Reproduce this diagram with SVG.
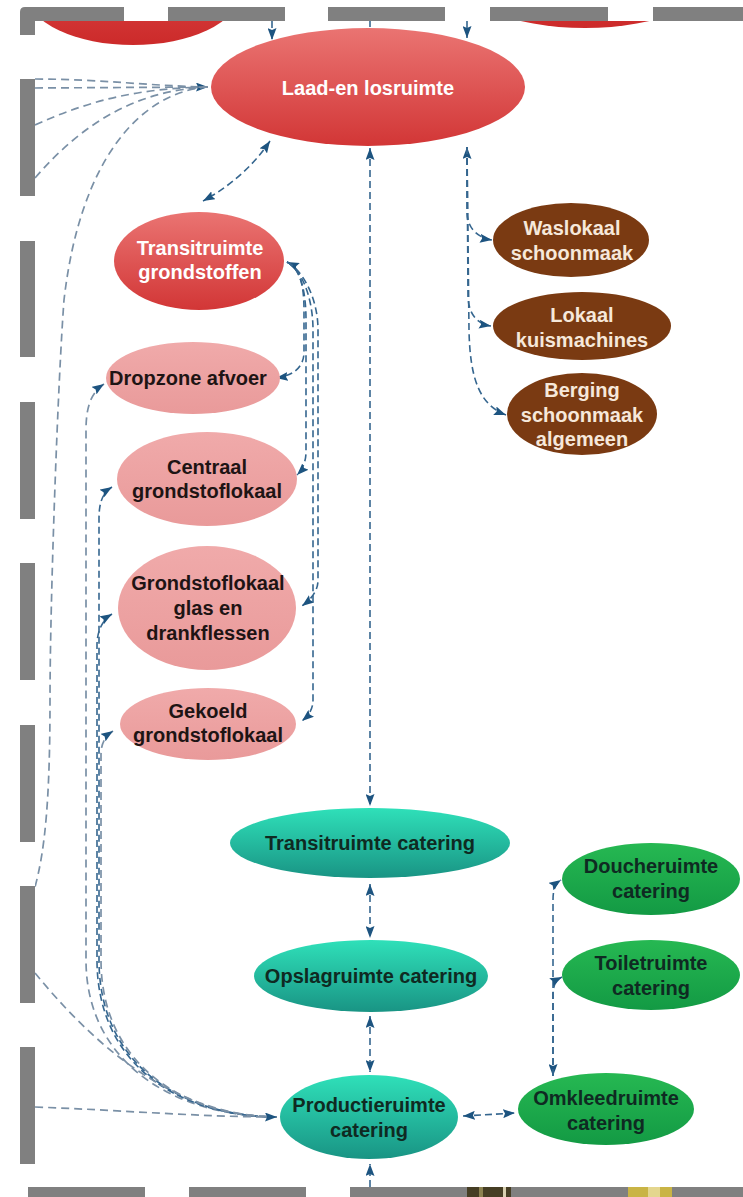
<svg xmlns="http://www.w3.org/2000/svg" width="743" height="1197" viewBox="0 0 743 1197">
<style>
.t{font-family:"Liberation Sans",Arial,sans-serif;font-weight:bold;font-size:20px;text-anchor:middle}
.w{fill:#ffffff}
.c{fill:#f6e8da}
.d{fill:#1e1414}
.g{fill:#0f2a22}
.bar{fill:#808080}
.ln{fill:none;stroke:#35668f;stroke-width:1.6;stroke-dasharray:7 4}
.lt{fill:none;stroke:#7a90a6;stroke-width:1.7;stroke-dasharray:8 5}
</style>
<defs>
<linearGradient id="gRed" x1="0" y1="0" x2="0" y2="1"><stop offset="0" stop-color="#ea7472"/><stop offset="1" stop-color="#d23636"/></linearGradient>
<linearGradient id="gRed2" x1="0" y1="0" x2="0" y2="1"><stop offset="0" stop-color="#e0504e"/><stop offset="1" stop-color="#cc2a2a"/></linearGradient>
<linearGradient id="gPink" x1="0" y1="0" x2="0" y2="1"><stop offset="0" stop-color="#f0aaaa"/><stop offset="1" stop-color="#e99a9a"/></linearGradient>
<linearGradient id="gTeal" x1="0" y1="0" x2="0" y2="1"><stop offset="0" stop-color="#2fe0b9"/><stop offset="1" stop-color="#199484"/></linearGradient>
<linearGradient id="gGreen" x1="0" y1="0" x2="0" y2="1"><stop offset="0" stop-color="#26b852"/><stop offset="1" stop-color="#139a44"/></linearGradient>
<marker id="ah" viewBox="0 0 12 9" refX="12" refY="4.5" markerWidth="12" markerHeight="9" markerUnits="userSpaceOnUse" orient="auto-start-reverse"><path d="M0,0 L12,4.5 L0,9 L2,4.5 z" fill="#1d5480"/></marker>
<clipPath id="clip"><rect x="35" y="21" width="708" height="1166"/></clipPath>
</defs>
<rect x="0" y="0" width="743" height="1197" fill="#ffffff"/>

<g clip-path="url(#clip)">
<g id="node-top-left"><ellipse cx="133" cy="-5" rx="105" ry="50" fill="url(#gRed2)"/></g>
<g id="node-top-right"><ellipse cx="585" cy="-30" rx="135" ry="58" fill="url(#gRed2)"/></g>

<g id="connectors">
<path class="lt" d="M35,79 C100,79 150,86 208,87"/>
<path class="lt" d="M35,88 L208,87" marker-end="url(#ah)"/>
<path class="lt" d="M35,125 C90,100 140,88 208,87"/>
<path class="lt" d="M35,178 C85,120 140,90 208,87"/>
<path class="lt" d="M208,87 C140,92 80,160 64,300 C58,380 50,600 50,700 C50,800 45,850 35,887"/>
<path class="ln" d="M270,141 Q245,178 203,201" marker-start="url(#ah)" marker-end="url(#ah)"/>
<path class="ln" d="M370,148 L370,806" marker-start="url(#ah)" marker-end="url(#ah)"/>
<path class="ln" d="M272,21 L272,40" marker-end="url(#ah)"/>
<path class="ln" d="M467,21 L467,38" marker-end="url(#ah)"/>
<path class="ln" d="M370,21 L370,27"/>
<path class="ln" d="M467,147 L467,212 C467,228 478,238 492,240" marker-start="url(#ah)" marker-end="url(#ah)"/>
<path class="ln" d="M467,147 L468,295 C468,315 478,324 491,326" marker-end="url(#ah)"/>
<path class="ln" d="M467,147 L469,330 C470,380 480,405 506,415" marker-end="url(#ah)"/>
<path class="ln" d="M287,262 C300,268 304,285 304,310 L304,352 C304,368 292,376 276,378" marker-start="url(#ah)" marker-end="url(#ah)"/>
<path class="ln" d="M287,262 C300,268 306,290 306,320 L306,452 C306,462 302,470 297,475" marker-end="url(#ah)"/>
<path class="ln" d="M287,262 C300,268 318,295 318,330 L318,580 C318,592 310,600 302,606" marker-end="url(#ah)"/>
<path class="ln" d="M287,262 C300,268 313,295 313,330 L313,700 C313,710 308,716 302,721" marker-end="url(#ah)"/>
<path class="lt" d="M104,384 C92,392 86,405 86,430 L86,960 C86,1060 170,1116 277,1117" marker-start="url(#ah)"/>
<path class="ln" d="M112,487 C101,494 99,505 99,520 L99,960 C99,1060 175,1116 277,1117" marker-start="url(#ah)"/>
<path class="ln" d="M112,614 C102,620 97,632 97,645 L97,960 C97,1060 172,1116 277,1117" marker-start="url(#ah)"/>
<path class="lt" d="M113,731 C104,737 101,745 101,755 L101,960 C101,1060 178,1116 277,1117" marker-start="url(#ah)"/>
<path class="lt" d="M35,973 C90,1040 170,1116 277,1117"/>
<path class="lt" d="M35,1107 C120,1110 200,1117 277,1117" marker-end="url(#ah)"/>
<path class="ln" d="M370,884 L370,938" marker-start="url(#ah)" marker-end="url(#ah)"/>
<path class="ln" d="M370,1016 L370,1072" marker-start="url(#ah)" marker-end="url(#ah)"/>
<path class="ln" d="M370,1187 L370,1164" marker-end="url(#ah)"/>
<path class="ln" d="M463,1116 L515,1113" marker-start="url(#ah)" marker-end="url(#ah)"/>
<path class="ln" d="M553,1076 L553,900 C553,890 555,884 561,880" marker-start="url(#ah)" marker-end="url(#ah)"/>
<path class="ln" d="M553,1076 L553,995 C553,985 556,980 562,977" marker-end="url(#ah)"/>
</g>

<g id="laad"><ellipse cx="368" cy="87" rx="157" ry="59" fill="url(#gRed)"/><text class="t w" x="368" y="95">Laad-en losruimte</text></g>
<g id="transit-grondstoffen"><ellipse cx="199" cy="261" rx="85" ry="49" fill="url(#gRed)"/><text class="t w" x="200" y="255">Transitruimte</text><text class="t w" x="200" y="279">grondstoffen</text></g>
<g id="dropzone"><ellipse cx="193" cy="378" rx="87" ry="36" fill="url(#gPink)"/><text class="t d" x="188" y="385">Dropzone afvoer</text></g>
<g id="centraal"><ellipse cx="207" cy="479" rx="90" ry="47" fill="url(#gPink)"/><text class="t d" x="207" y="474">Centraal</text><text class="t d" x="207" y="498">grondstoflokaal</text></g>
<g id="glas"><ellipse cx="207" cy="608" rx="89" ry="62" fill="url(#gPink)"/><text class="t d" x="208" y="590">Grondstoflokaal</text><text class="t d" x="208" y="615">glas en</text><text class="t d" x="208" y="640">drankflessen</text></g>
<g id="gekoeld"><ellipse cx="208" cy="724" rx="88" ry="36" fill="url(#gPink)"/><text class="t d" x="208" y="718">Gekoeld</text><text class="t d" x="208" y="742">grondstoflokaal</text></g>
<g id="waslokaal"><ellipse cx="571" cy="240" rx="78" ry="37" fill="#7a3a12"/><text class="t c" x="572" y="235">Waslokaal</text><text class="t c" x="572" y="260">schoonmaak</text></g>
<g id="kuismachines"><ellipse cx="582" cy="326" rx="89" ry="34" fill="#7a3a12"/><text class="t c" x="582" y="322">Lokaal</text><text class="t c" x="582" y="347">kuismachines</text></g>
<g id="berging"><ellipse cx="582" cy="414" rx="75" ry="41" fill="#7a3a12"/><text class="t c" x="582" y="397">Berging</text><text class="t c" x="582" y="422">schoonmaak</text><text class="t c" x="582" y="446">algemeen</text></g>
<g id="transit-catering"><ellipse cx="370" cy="843" rx="140" ry="35" fill="url(#gTeal)"/><text class="t g" x="370" y="850">Transitruimte catering</text></g>
<g id="opslag-catering"><ellipse cx="371" cy="976" rx="117" ry="36" fill="url(#gTeal)"/><text class="t g" x="371" y="983">Opslagruimte catering</text></g>
<g id="productie-catering"><ellipse cx="369" cy="1117" rx="89" ry="42" fill="url(#gTeal)"/><text class="t g" x="369" y="1112">Productieruimte</text><text class="t g" x="369" y="1137">catering</text></g>
<g id="douche-catering"><ellipse cx="651" cy="879" rx="89" ry="36" fill="url(#gGreen)"/><text class="t g" x="651" y="873">Doucheruimte</text><text class="t g" x="651" y="898">catering</text></g>
<g id="toilet-catering"><ellipse cx="651" cy="975" rx="89" ry="35" fill="url(#gGreen)"/><text class="t g" x="651" y="970">Toiletruimte</text><text class="t g" x="651" y="995">catering</text></g>
<g id="omkleed-catering"><ellipse cx="606" cy="1109" rx="88" ry="36" fill="url(#gGreen)"/><text class="t g" x="606" y="1105">Omkleedruimte</text><text class="t g" x="606" y="1130">catering</text></g>
</g>

<g id="frame">
<path class="bar" d="M20,35 L20,12 Q20,7 25,7 L124,7 L124,21 L35,21 L35,35 Z"/>
<rect class="bar" x="168" y="7" width="117" height="14"/>
<rect class="bar" x="328" y="7" width="117" height="14"/>
<rect class="bar" x="490" y="7" width="118" height="14"/>
<rect class="bar" x="653" y="7" width="90" height="14"/>
<rect class="bar" x="20" y="79" width="15" height="117"/>
<rect class="bar" x="20" y="241" width="15" height="116"/>
<rect class="bar" x="20" y="402" width="15" height="117"/>
<rect class="bar" x="20" y="563" width="15" height="117"/>
<rect class="bar" x="20" y="725" width="15" height="117"/>
<rect class="bar" x="20" y="886" width="15" height="117"/>
<rect class="bar" x="20" y="1047" width="15" height="117"/>
<rect class="bar" x="28" y="1187" width="117" height="10"/>
<rect class="bar" x="189" y="1187" width="117" height="10"/>
<rect class="bar" x="350" y="1187" width="117" height="10"/>
<rect class="bar" x="511" y="1187" width="117" height="10"/>
<rect class="bar" x="672" y="1187" width="71" height="10"/>
<rect x="467" y="1187" width="44" height="10" fill="#463e24"/>
<rect x="479" y="1187" width="4" height="10" fill="#8c8250"/>
<rect x="503" y="1187" width="3" height="10" fill="#d8d0b0"/>
<rect x="628" y="1187" width="44" height="10" fill="#c9b445"/>
<rect x="648" y="1187" width="12" height="10" fill="#e4d68e"/>
</g>
</svg>
